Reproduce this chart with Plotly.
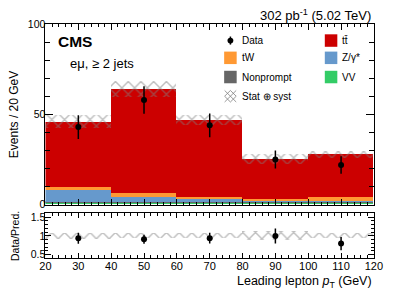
import numpy as np
import plotly.graph_objects as go

# ---------------- data ----------------
bin_edges = [20, 40, 60, 80, 100, 120]
bin_centers = [30, 50, 70, 90, 110]
data = [43, 58, 44, 25, 22]
data_err = [6.6, 7.6, 6.6, 5.0, 4.8]
vv = [1.2, 1.2, 1.2, 1.2, 1.2]
nonprompt = [0.3, 0.3, 0.2, 0.2, 0.3]
zgamma = [6.5, 2.8, 1.7, 0.6, 0.5]
tw = [1.6, 2.1, 1.1, 1.3, 2.3]
ttbar = [36.3, 57.4, 42.6, 21.8, 23.4]
unc = [3.6, 4.4, 3.0, 2.8, 2.1]
x_tick_vals = [20, 30, 40, 50, 60, 70, 80, 90, 100, 110, 120]
y_tick_vals = [0, 50, 100]
r_tick_vals = [0.5, 1, 1.5]

# ---------------- styles ----------------
W, H = 407, 299
FONT = "Liberation Sans, Arial, Helvetica, sans-serif"
C_TT = "#cc0000"
C_TW = "#ff9933"
C_Z = "#6699cc"
C_NP = "#666666"
C_VV = "#33cc66"
C_HATCH = "#7f7f7f"


def px(x):  # page pixel -> paper fraction
    return x / W


def py(y):
    return 1 - y / H


widths = [float(b - a) for a, b in zip(bin_edges[:-1], bin_edges[1:])]
stack = [(vv, C_VV, "VV"), (nonprompt, C_NP, "Nonprompt"),
         (zgamma, C_Z, "Z/γ*"), (tw, C_TW, "tW"), (ttbar, C_TT, "tt̄")]

fig = go.Figure()
base = np.zeros(len(bin_centers))
for vals, col, name in stack:
    v = np.array(vals, dtype=float)
    fig.add_trace(go.Bar(x=bin_centers, y=v.tolist(), base=base.tolist(), width=widths,
                         marker=dict(color=col, line=dict(width=0)),
                         name=name, showlegend=False, xaxis="x", yaxis="y"))
    base = base + v
pred = base
unc_a = np.array(unc, dtype=float)

hatch_marker = dict(color="rgba(0,0,0,0)", line=dict(width=0),
                    pattern=dict(shape="x", fgcolor=C_HATCH, size=9, solidity=0.3))

# uncertainty hatch (main)
fig.add_trace(go.Bar(x=bin_centers, y=(2 * unc_a).tolist(), base=(pred - unc_a).tolist(), width=widths,
                     marker=hatch_marker, showlegend=False, xaxis="x", yaxis="y"))

# data
fig.add_trace(go.Scatter(x=bin_centers, y=data, mode="markers",
                         marker=dict(color="black", size=6),
                         error_y=dict(type="data", array=data_err, color="black", thickness=1.5, width=0),
                         showlegend=False, xaxis="x", yaxis="y"))

# ratio panel
data_a = np.array(data, dtype=float)
ratio = data_a / pred
ratio_err = np.array(data_err) / pred
rel_unc = unc_a / pred
fig.add_trace(go.Bar(x=bin_centers, y=(2 * rel_unc).tolist(), base=(1 - rel_unc).tolist(), width=widths,
                     marker=hatch_marker, showlegend=False, xaxis="x2", yaxis="y2"))
fig.add_trace(go.Scatter(x=bin_centers, y=ratio.tolist(), mode="markers",
                         marker=dict(color="black", size=6),
                         error_y=dict(type="data", array=ratio_err.tolist(), color="black", thickness=1.5, width=0),
                         showlegend=False, xaxis="x2", yaxis="y2"))

# ---------------- legend (drawn in paper coordinates) ----------------
col1_x, col2_x = 233, 337.5
rows_y = [36, 54, 74, 94]
sw = 13
shapes = []
for (cx, cy, col) in [(col1_x, rows_y[1], C_TW), (col1_x, rows_y[2], C_NP),
                      (col2_x, rows_y[0], C_TT), (col2_x, rows_y[1], C_Z), (col2_x, rows_y[2], C_VV)]:
    shapes.append(dict(type="rect", xref="paper", yref="paper", x0=px(cx - sw / 2), x1=px(cx + sw / 2),
                       y0=py(cy + sw / 2), y1=py(cy - sw / 2), fillcolor=col, line=dict(width=0)))
# data legend marker
shapes.append(dict(type="line", xref="paper", yref="paper", x0=px(col1_x), x1=px(col1_x),
                   y0=py(rows_y[0] + 4.2), y1=py(rows_y[0] - 4.2), line=dict(color="black", width=1.5)))
shapes.append(dict(type="circle", xref="paper", yref="paper", x0=px(col1_x - 3), x1=px(col1_x + 3),
                   y0=py(rows_y[0] + 3), y1=py(rows_y[0] - 3), fillcolor="black", line=dict(width=0)))
# hatch legend swatch
hx0, hx1 = col1_x - 6, col1_x + 6
hy0, hy1 = rows_y[3] - 6, rows_y[3] + 6
hm, vm = col1_x, rows_y[3]
for (a, b, c, d) in [(hx0, hy0, hx1, hy1), (hx0, hy1, hx1, hy0),
                     (hx0, vm, hm, hy1), (hm, hy0, hx1, vm),
                     (hx0, vm, hm, hy0), (hm, hy1, hx1, vm)]:
    shapes.append(dict(type="line", xref="paper", yref="paper", x0=px(a), y0=py(b), x1=px(c), y1=py(d),
                       line=dict(color=C_HATCH, width=0.8)))

annotations = []


def txt(x, y, s, size, xanchor="left", yanchor="middle", angle=0, bold=False):
    annotations.append(dict(xref="paper", yref="paper", x=px(x), y=py(y),
                            text=("<b>%s</b>" % s) if bold else s,
                            showarrow=False, xanchor=xanchor, yanchor=yanchor, textangle=angle,
                            font=dict(family=FONT, size=size, color="black")))


lx1, lx2 = 242.5, 347
txt(lx1, rows_y[0], "Data", 10)
txt(lx1, rows_y[1], "tW", 10)
txt(lx1, rows_y[2], "Nonprompt", 10)
txt(lx1, rows_y[3], "Stat ⊕ syst", 10)
txt(lx2, rows_y[0], "tt̄", 10)
txt(lx2, rows_y[1], "Z/γ*", 10)
txt(lx2, rows_y[2], "VV", 10)

txt(381, 9.5, "302 pb<sup>-1</sup> (5.02 TeV)", 13, xanchor="right")
txt(52, 37, "CMS", 15.5, bold=True)
txt(64, 60, "eμ, ≥ 2 jets", 13)
txt(9, 113, "Events / 20 GeV", 12, xanchor="center", angle=-90)
txt(10, 240, "Data/Pred.", 10.5, xanchor="center", angle=-90)
txt(382, 288, "Leading lepton <i>p</i><sub>T</sub> (GeV)", 12.5, xanchor="right")

# ---------------- layout ----------------
xd = [px(41), px(382)]


def axis(**kw):
    d = dict(showline=True, linecolor="black", linewidth=1, mirror="ticks",
             ticks="inside", tickcolor="black", showgrid=False, zeroline=False,
             tickfont=dict(family=FONT, size=11, color="black"))
    d.update(kw)
    return d


fig.update_layout(
    width=W, height=H, margin=dict(l=0, r=0, t=0, b=0),
    paper_bgcolor="white", plot_bgcolor="white",
    barmode="overlay", bargap=0, showlegend=False,
    xaxis=axis(domain=xd, range=[20, 120], anchor="y", showticklabels=False,
               tickvals=x_tick_vals, ticklen=6,
               minor=dict(dtick=2, ticklen=3, ticks="inside", tickcolor="black")),
    yaxis=axis(domain=[py(207), py(19)], range=[0, 100], anchor="x",
               tickvals=y_tick_vals, ticklen=8, ticklabelstandoff=-3,
               tickfont=dict(family=FONT, size=10.5, color="black"),
               minor=dict(dtick=10, ticklen=5, ticks="inside", tickcolor="black")),
    xaxis2=axis(domain=xd, range=[20, 120], anchor="y2",
                tickvals=x_tick_vals, ticklen=5, ticklabelstandoff=-3,
                minor=dict(dtick=2, ticklen=3, ticks="inside", tickcolor="black")),
    yaxis2=axis(domain=[py(263), py(216)], range=[0.4, 1.6], anchor="x2",
                tickvals=r_tick_vals, ticktext=["0.5", "1", "1.5"], ticklen=6, ticklabelstandoff=-3,
                tickfont=dict(family=FONT, size=10.5, color="black"),
                minor=dict(dtick=0.1, ticklen=3, ticks="inside", tickcolor="black")),
    shapes=shapes, annotations=annotations,
)

fig.write_html("out.html", config={"displayModeBar": False},
               post_script="document.body.style.margin='0';document.body.style.overflow='hidden';")
